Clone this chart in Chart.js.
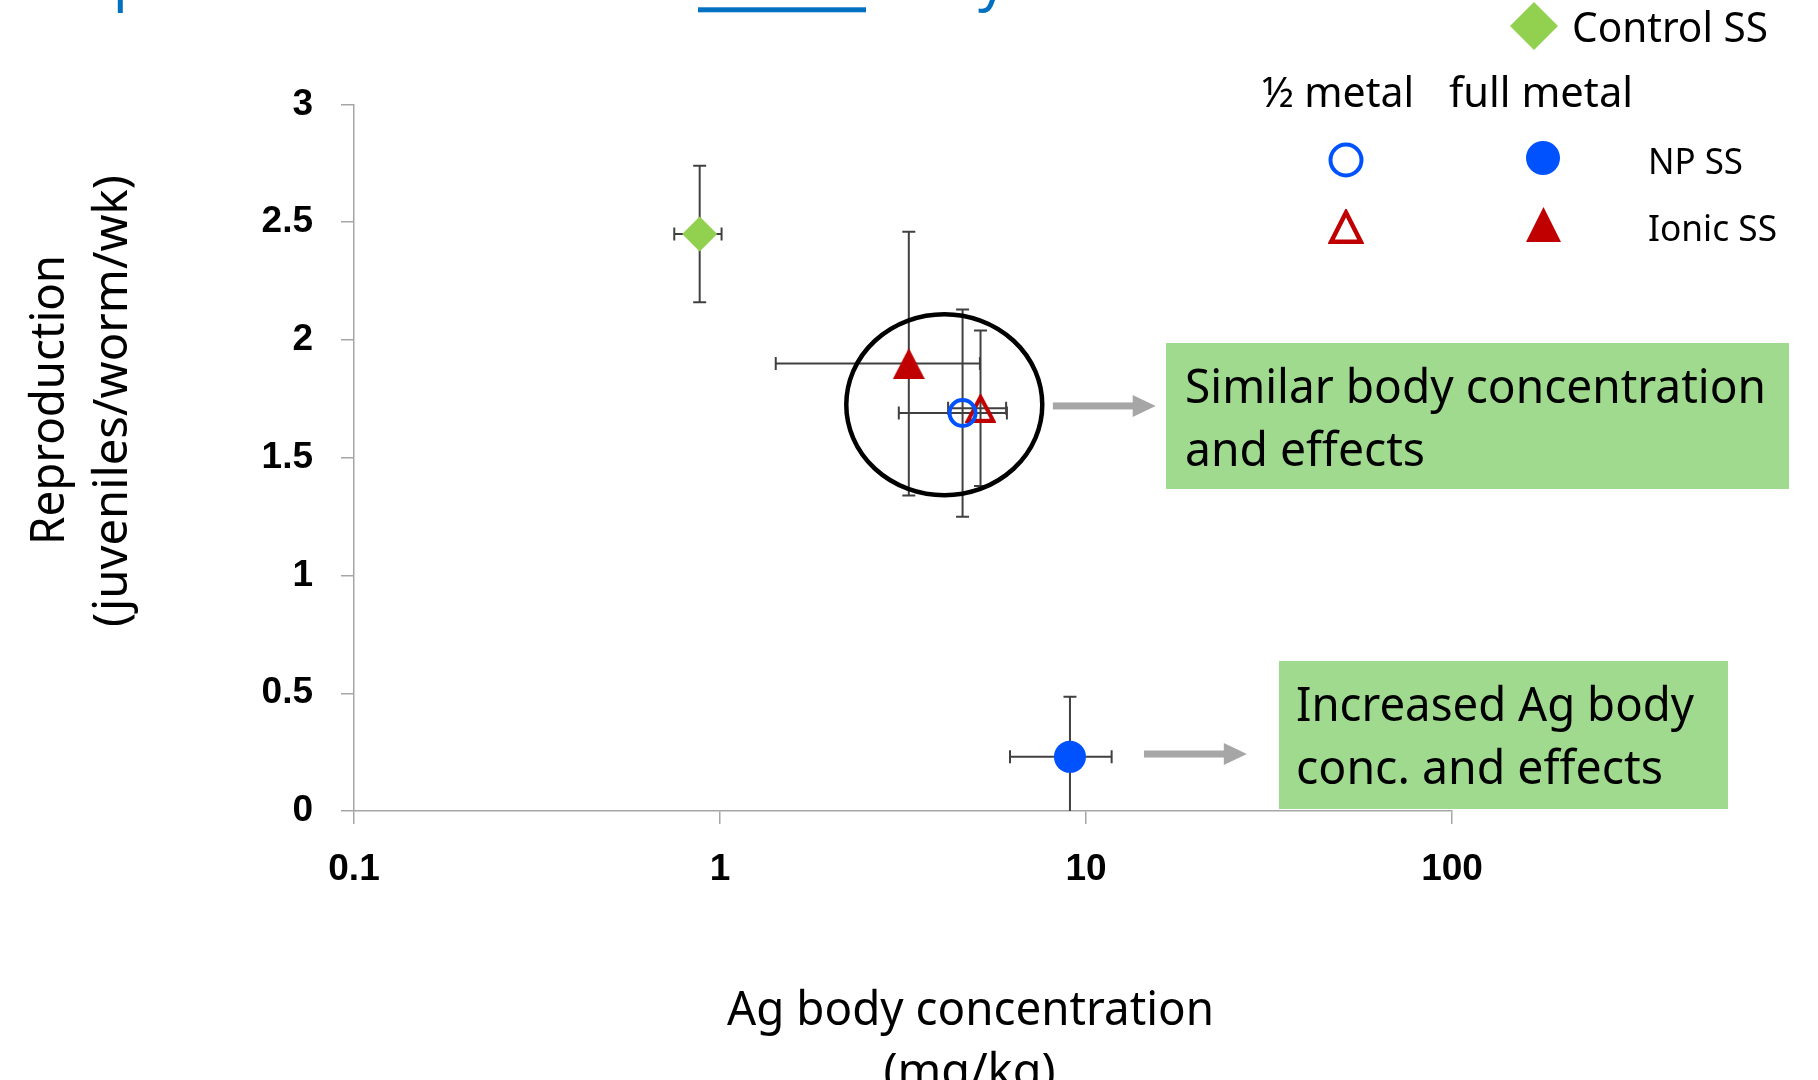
<!DOCTYPE html>
<html>
<head>
<meta charset="utf-8">
<title>Reproduction vs Ag body concentration</title>
<script src="https://cdn.jsdelivr.net/npm/chart.js@4.4.1/dist/chart.umd.min.js"></script>
<style>
  html, body { margin: 0; padding: 0; background: #fff; overflow: hidden; }
  canvas { display: block; }
</style>
</head>
<body>
<canvas id="chart" width="1818" height="1100"></canvas>
<script>
// data
const seriesNames = ['Control SS', 'NP SS ½ metal', 'Ionic SS ½ metal', 'NP SS full metal', 'Ionic SS full metal'];
const agConc = [0.88, 4.60, 5.15, 9.04, 3.28];          // mg/kg
const agConcLow = [0.75, 3.08, 4.20, 6.20, 1.42];
const agConcHigh = [1.01, 6.08, 6.05, 11.75, 5.13];
const reproduction = [2.45, 1.69, 1.71, 0.23, 1.90];    // juveniles/worm/wk
const reproductionErr = [0.29, 0.44, 0.33, 0.255, 0.56];
const xTicks = [0.1, 1, 10, 100];
const yTicks = [0, 0.5, 1, 1.5, 2, 2.5, 3];

const GREEN = '#92D050';
const BLUE = '#0052FF';
const RED = '#C00000';
const AXIS = '#A6A6A6';

// triangle marker centred on its box (like Excel does)
function triangleImage(w, h, fill, stroke, lw) {
  const c = document.createElement('canvas');
  c.width = Math.ceil(w);
  c.height = Math.ceil(h);
  const g = c.getContext('2d');
  const inset = stroke ? lw / 2 : 0;
  g.beginPath();
  g.moveTo(c.width / 2, inset * 1.6);
  g.lineTo(c.width - inset * 1.4, c.height - inset);
  g.lineTo(inset * 1.4, c.height - inset);
  g.closePath();
  if (fill) { g.fillStyle = fill; g.fill(); }
  if (stroke) { g.strokeStyle = stroke; g.lineWidth = lw; g.lineJoin = 'miter'; g.stroke(); }
  return c;
}

const markerStyles = [
  { style: 'rectRot', radius: 17.5, bg: GREEN, border: GREEN, width: 0 },
  { style: 'circle', radius: 13, bg: 'rgba(0,0,0,0)', border: BLUE, width: 4 },
  { style: triangleImage(31, 29, null, RED, 4), radius: 15, bg: RED, border: RED, width: 0 },
  { style: 'circle', radius: 16, bg: BLUE, border: BLUE, width: 0 },
  { style: triangleImage(32, 31, RED, null, 0), radius: 15, bg: RED, border: RED, width: 0 }
];

// Calibri-like text: Noto Sans squeezed to the measured width
function calText(ctx, text, x, baseline, size, width, color, rotate) {
  ctx.save();
  ctx.font = (size * 0.902).toFixed(1) + 'px "Noto Sans"';
  const w = ctx.measureText(text).width;
  const sx = width ? width / w : 0.86;
  ctx.translate(x, baseline);
  if (rotate) ctx.rotate(-Math.PI / 2);
  ctx.scale(sx, 1);
  ctx.fillStyle = color || '#000';
  ctx.textAlign = 'left';
  ctx.textBaseline = 'alphabetic';
  ctx.fillText(text, rotate ? -w / 2 : 0, 0);
  ctx.restore();
}

const errorBars = {
  id: 'errorBars',
  beforeDatasetsDraw(chart) {
    const { ctx, chartArea, scales: { x, y } } = chart;
    const cap = 6.5;
    ctx.save();
    ctx.beginPath();
    ctx.rect(chartArea.left, chartArea.top - 20, chartArea.width, chartArea.height + 20);
    ctx.clip();
    ctx.strokeStyle = '#404040';
    ctx.lineWidth = 2;
    agConc.forEach((v, i) => {
      const px = x.getPixelForValue(v);
      const py = y.getPixelForValue(reproduction[i]);
      const xl = x.getPixelForValue(agConcLow[i]);
      const xh = x.getPixelForValue(agConcHigh[i]);
      const yt = y.getPixelForValue(reproduction[i] + reproductionErr[i]);
      const yb = Math.min(y.getPixelForValue(reproduction[i] - reproductionErr[i]), chartArea.bottom + 10);
      ctx.beginPath();
      ctx.moveTo(xl, py); ctx.lineTo(xh, py);
      ctx.moveTo(xl, py - cap); ctx.lineTo(xl, py + cap);
      ctx.moveTo(xh, py - cap); ctx.lineTo(xh, py + cap);
      ctx.moveTo(px, yt); ctx.lineTo(px, yb);
      ctx.moveTo(px - cap, yt); ctx.lineTo(px + cap, yt);
      if (yb < chartArea.bottom) { ctx.moveTo(px - cap, yb); ctx.lineTo(px + cap, yb); }
      ctx.stroke();
    });
    ctx.restore();
  }
};

// ring, arrows and the green callouts, anchored to the axes
const ring = { x: 4.10, y: 1.725, rx: 98, ry: 90.5 };
const arrows = [
  { x0: 8.12, x1: 15.5, y: 1.72 },
  { x0: 14.4, x1: 27.5, y: 0.242 }
];
const callouts = [
  { left: 1166, top: 343, right: 1789, bottom: 489, lines: ['Similar body concentration', 'and effects'], widths: [581, 240], textLeft: 1185 },
  { left: 1279, top: 661, right: 1728, bottom: 809, lines: ['Increased Ag body', 'conc. and effects'], widths: [398, 367], textLeft: 1296 }
];

const decorations = {
  id: 'decorations',
  afterDraw(chart) {
    const { ctx, scales: { x, y } } = chart;

    // circle round the overlapping points
    ctx.save();
    ctx.strokeStyle = '#000';
    ctx.lineWidth = 4.5;
    ctx.beginPath();
    ctx.ellipse(x.getPixelForValue(ring.x), y.getPixelForValue(ring.y), ring.rx, ring.ry, 0, 0, Math.PI * 2);
    ctx.stroke();

    // grey block arrows
    ctx.fillStyle = '#A6A6A6';
    arrows.forEach(a => {
      const x0 = x.getPixelForValue(a.x0), x1 = x.getPixelForValue(a.x1), py = y.getPixelForValue(a.y);
      const head = 23;
      ctx.fillRect(x0, py - 3.5, x1 - x0 - head + 1, 7);
      ctx.beginPath();
      ctx.moveTo(x1 - head, py - 11);
      ctx.lineTo(x1, py);
      ctx.lineTo(x1 - head, py + 11);
      ctx.closePath();
      ctx.fill();
    });

    // callout boxes
    callouts.forEach(c => {
      ctx.fillStyle = '#A0DA8E';
      ctx.fillRect(c.left, c.top, c.right - c.left, c.bottom - c.top);
      c.lines.forEach((t, i) => calText(ctx, t, c.textLeft, c.top + 60 + i * 63, 53, c.widths[i]));
    });
    ctx.restore();

    // title (mostly above the visible area)
    calText(ctx, 'Reproduction relative to whole body concentration', 46, -1.5, 64, 1344, '#0070C0');
    ctx.fillStyle = '#0070C0';
    ctx.fillRect(698, 7.3, 168, 5);

    // legend
    ctx.save();
    ctx.fillStyle = GREEN;
    ctx.beginPath();
    ctx.moveTo(1534, 2); ctx.lineTo(1558, 26); ctx.lineTo(1534, 50); ctx.lineTo(1510, 26);
    ctx.closePath(); ctx.fill();
    ctx.strokeStyle = BLUE; ctx.lineWidth = 4;
    ctx.beginPath(); ctx.arc(1346, 160, 15.5, 0, Math.PI * 2); ctx.stroke();
    ctx.fillStyle = BLUE;
    ctx.beginPath(); ctx.arc(1543, 158, 17, 0, Math.PI * 2); ctx.fill();
    const openTri = triangleImage(36, 35, null, RED, 4.5);
    const fullTri = triangleImage(35, 35, RED, null, 0);
    ctx.drawImage(openTri, 1346 - 18, 226.5 - 17.5);
    ctx.drawImage(fullTri, 1543.5 - 17.5, 224.5 - 17.5);
    ctx.restore();
    calText(ctx, 'Control SS', 1572, 41.7, 47, 196);
    calText(ctx, '½ metal', 1262, 107, 47, 152);
    calText(ctx, 'full metal', 1449, 107, 47, 184);
    calText(ctx, 'NP SS', 1648, 174, 41, 95);
    calText(ctx, 'Ionic SS', 1648, 240.7, 41, 129);

    // axis titles
    calText(ctx, 'Ag body concentration', 727, 1025, 53, 487);
    calText(ctx, '(mg/kg)', 883.5, 1087, 53, 172);
    calText(ctx, 'Reproduction', 64, 400, 53, 290, '#000', true);
    calText(ctx, '(juveniles/worm/wk)', 127, 401, 53, 452, '#000', true);
  }
};

const tickFont = { family: '"Liberation Sans", Arial, sans-serif', weight: 'bold', size: 37 };

new Chart(document.getElementById('chart'), {
  type: 'scatter',
  data: {
    datasets: seriesNames.map((name, i) => ({
      label: name,
      data: [{ x: agConc[i], y: reproduction[i] }],
      pointStyle: markerStyles[i].style,
      pointRadius: markerStyles[i].radius,
      pointHoverRadius: markerStyles[i].radius,
      backgroundColor: markerStyles[i].bg,
      borderColor: markerStyles[i].border,
      borderWidth: markerStyles[i].width,
      pointBorderWidth: markerStyles[i].width
    }))
  },
  options: {
    responsive: false,
    animation: false,
    layout: { padding: { left: 0, top: 104.5, right: 366, bottom: 0 } },
    plugins: { legend: { display: false }, tooltip: { enabled: false } },
    scales: {
      x: {
        type: 'logarithmic',
        min: 0.1,
        max: 100,
        afterBuildTicks: s => { s.ticks = xTicks.map(v => ({ value: v })); },
        afterFit: s => { s.height = 289; },
        ticks: { font: tickFont, color: '#000', padding: 24, maxRotation: 0, autoSkip: false, callback: v => String(v) },
        grid: { drawOnChartArea: false, drawTicks: true, tickLength: 13, color: AXIS, lineWidth: 1.5 },
        border: { color: AXIS, width: 1.5 }
      },
      y: {
        min: 0,
        max: 3,
        afterBuildTicks: s => { s.ticks = yTicks.map(v => ({ value: v })); },
        afterFit: s => { s.width = 354; },
        ticks: { font: tickFont, color: '#000', padding: 28, callback: v => String(v) },
        grid: { drawOnChartArea: false, drawTicks: true, tickLength: 13, color: AXIS, lineWidth: 1.5 },
        border: { color: AXIS, width: 1.5 }
      }
    }
  },
  plugins: [errorBars, decorations]
});
</script>
</body>
</html>
